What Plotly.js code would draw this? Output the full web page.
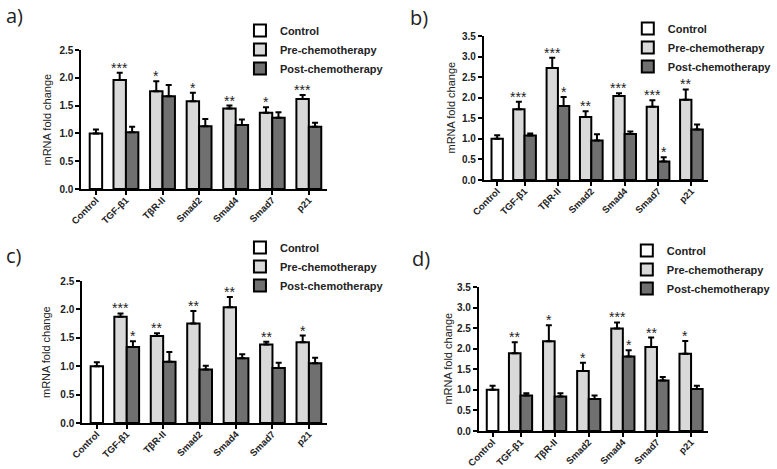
<!DOCTYPE html>
<html>
<head>
<meta charset="utf-8">
<script src="https://cdn.plot.ly/plotly-3.0.1.min.js"></script>
<style>
  body { margin: 0; background: #fff; }
  #chart { width: 777px; height: 469px; }
</style>
</head>
<body>
<div id="chart"></div>
<script>
// categories
const genes = ['Control', 'TGF-β1', 'TβR-II', 'Smad2', 'Smad4', 'Smad7', 'p21'];
const groupNames = ['Control', 'Pre-chemotherapy', 'Post-chemotherapy'];
const yTitle = 'mRNA fold change';

// a)
const aCtrl = [1.0], aCtrlErr = [0.07];
const aPre = [1.96, 1.76, 1.58, 1.45, 1.37, 1.62];
const aPreErr = [0.13, 0.18, 0.15, 0.05, 0.10, 0.07];
const aPreSig = ['***', '*', '*', '**', '*', '***'];
const aPost = [1.02, 1.67, 1.13, 1.15, 1.28, 1.12];
const aPostErr = [0.10, 0.20, 0.13, 0.10, 0.10, 0.07];
const aPostSig = ['', '', '', '', '', ''];

// b)
const bCtrl = [1.0], bCtrlErr = [0.09];
const bPre = [1.72, 2.72, 1.53, 2.04, 1.78, 1.95];
const bPreErr = [0.18, 0.25, 0.14, 0.07, 0.16, 0.25];
const bPreSig = ['***', '***', '**', '***', '***', '**'];
const bPost = [1.08, 1.80, 0.96, 1.12, 0.45, 1.23];
const bPostErr = [0.05, 0.22, 0.15, 0.06, 0.10, 0.12];
const bPostSig = ['', '*', '', '', '*', ''];

// c)
const cCtrl = [1.0], cCtrlErr = [0.07];
const cPre = [1.87, 1.53, 1.75, 2.04, 1.38, 1.42];
const cPreErr = [0.06, 0.05, 0.22, 0.18, 0.05, 0.12];
const cPreSig = ['***', '**', '**', '**', '**', '*'];
const cPost = [1.34, 1.08, 0.94, 1.14, 0.97, 1.05];
const cPostErr = [0.10, 0.17, 0.07, 0.07, 0.09, 0.10];
const cPostSig = ['*', '', '', '', '', ''];

// d)
const dCtrl = [1.0], dCtrlErr = [0.10];
const dPre = [1.89, 2.18, 1.46, 2.49, 2.04, 1.88];
const dPreErr = [0.27, 0.39, 0.20, 0.15, 0.23, 0.31];
const dPreSig = ['**', '*', '*', '***', '**', '*'];
const dPost = [0.86, 0.84, 0.78, 1.81, 1.23, 1.02];
const dPostErr = [0.06, 0.08, 0.08, 0.15, 0.08, 0.08];
const dPostSig = ['', '', '', '*', '', ''];

const FONT = 'Liberation Sans, Arial, sans-serif';
const TXT = '#222';
const fills = ['#ffffff', '#d9d9d9', '#707070'];
const barW = 0.34;
const ctrlPos = 0.18;
const tickPos = genes.map((g, i) => i === 0 ? ctrlPos : i);

const W = 777, H = 469;
const traces = [];
const layout = {
  width: W, height: H, autosize: false,
  margin: {l: 0, r: 0, t: 0, b: 0},
  paper_bgcolor: '#fff', plot_bgcolor: '#fff',
  barmode: 'overlay',
  font: {family: FONT, color: TXT},
  annotations: []
};

function errBar(arr) {
  return {type: 'data', symmetric: false, array: arr, arrayminus: arr.map(() => 0),
          color: '#000', thickness: 2, width: 3};
}

// box = [left px, right px, top px, bottom px], leg = [text x px, first row y px]
function panel(n, label, ctrl, ctrlErr, pre, preErr, preSig, post, postErr, postSig, yMax, box, leg, labelPos, titleX) {
  const sfx = n === 1 ? '' : String(n);
  const xa = 'x' + sfx, ya = 'y' + sfx, lg = 'legend' + sfx;
  const xs = pre.map((v, i) => i + 1);
  const sets = [
    {x: [ctrlPos], y: ctrl, e: ctrlErr, s: ['']},
    {x: xs.map(v => v - barW / 2), y: pre, e: preErr, s: preSig},
    {x: xs.map(v => v + barW / 2), y: post, e: postErr, s: postSig}
  ];
  sets.forEach((d, k) => {
    traces.push({
      type: 'bar', x: d.x, y: d.y, width: d.x.map(() => barW),
      name: groupNames[k], xaxis: xa, yaxis: ya, legend: lg,
      marker: {color: fills[k], line: {color: '#000', width: 2}},
      error_y: errBar(d.e), hoverinfo: 'skip'
    });
    d.s.forEach((s, i) => {
      if (!s) return;
      layout.annotations.push({
        xref: xa, yref: ya, x: d.x[i], y: d.y[i] + d.e[i], text: s,
        showarrow: false, yanchor: 'bottom', yshift: -5,
        font: {family: FONT, size: 14, color: TXT}
      });
    });
  });
  const yt = [];
  for (let v = 0; v <= yMax + 1e-9; v += 0.5) yt.push(v);
  layout['xaxis' + sfx] = {
    domain: [box[0] / W, box[1] / W], anchor: ya, range: [-0.22, 6.5],
    tickvals: tickPos, ticktext: genes, tickangle: -45, ticklabelstandoff: -4,
    ticks: 'outside', ticklen: 4, tickwidth: 2, tickcolor: '#000',
    showline: true, linecolor: '#000', linewidth: 2, showgrid: false, zeroline: false,
    tickfont: {family: FONT, size: 9.5, weight: 'bold', color: TXT}
  };
  layout['yaxis' + sfx] = {
    domain: [1 - box[3] / H, 1 - box[2] / H], anchor: xa, range: [0, yMax],
    tickvals: yt, tickformat: '.1f',
    ticks: 'outside', ticklen: 4, tickwidth: 2, tickcolor: '#000',
    showline: true, linecolor: '#000', linewidth: 2, showgrid: false, zeroline: false,
    tickfont: {family: FONT, size: 10, weight: 'bold', color: TXT}
  };
  layout[lg] = {
    x: (leg[0] - 32) / W, y: 1 - (leg[1] - 10) / H, xanchor: 'left', yanchor: 'top',
    bgcolor: 'rgba(0,0,0,0)', tracegroupgap: 0,
    font: {family: FONT, size: 11, weight: 'bold', color: TXT}
  };
  layout.annotations.push({
    xref: 'paper', yref: 'paper', x: titleX / W, y: 1 - (box[2] + box[3]) / 2 / H,
    xanchor: 'center', yanchor: 'middle', textangle: -90, text: yTitle, showarrow: false,
    font: {family: FONT, size: 11, color: TXT}
  });
  layout.annotations.push({
    xref: 'paper', yref: 'paper', x: labelPos[0] / W, y: 1 - labelPos[1] / H,
    xanchor: 'left', yanchor: 'middle', text: label, showarrow: false,
    font: {family: 'Open Sans, sans-serif', size: 20, color: TXT}
  });
}

panel(1, 'a)', aCtrl, aCtrlErr, aPre, aPreErr, aPreSig, aPost, aPostErr, aPostSig, 2.5,
      [83, 334, 50, 189], [277, 26], [4, 16], 48);
panel(2, 'b)', bCtrl, bCtrlErr, bPre, bPreErr, bPreSig, bPost, bPostErr, bPostSig, 3.5,
      [494, 723, 36, 180], [673, 24], [417, 17], 460);
panel(3, 'c)', cCtrl, cCtrlErr, cPre, cPreErr, cPreSig, cPost, cPostErr, cPostSig, 2.5,
      [84, 334, 281, 423], [277, 243], [4, 255], 47);
panel(4, 'd)', dCtrl, dCtrlErr, dPre, dPreErr, dPreSig, dPost, dPostErr, dPostSig, 3.5,
      [489, 723, 287, 431], [672, 246], [419, 258], 457);

Plotly.newPlot('chart', traces, layout, {staticPlot: true, displayModeBar: false});
</script>
</body>
</html>
